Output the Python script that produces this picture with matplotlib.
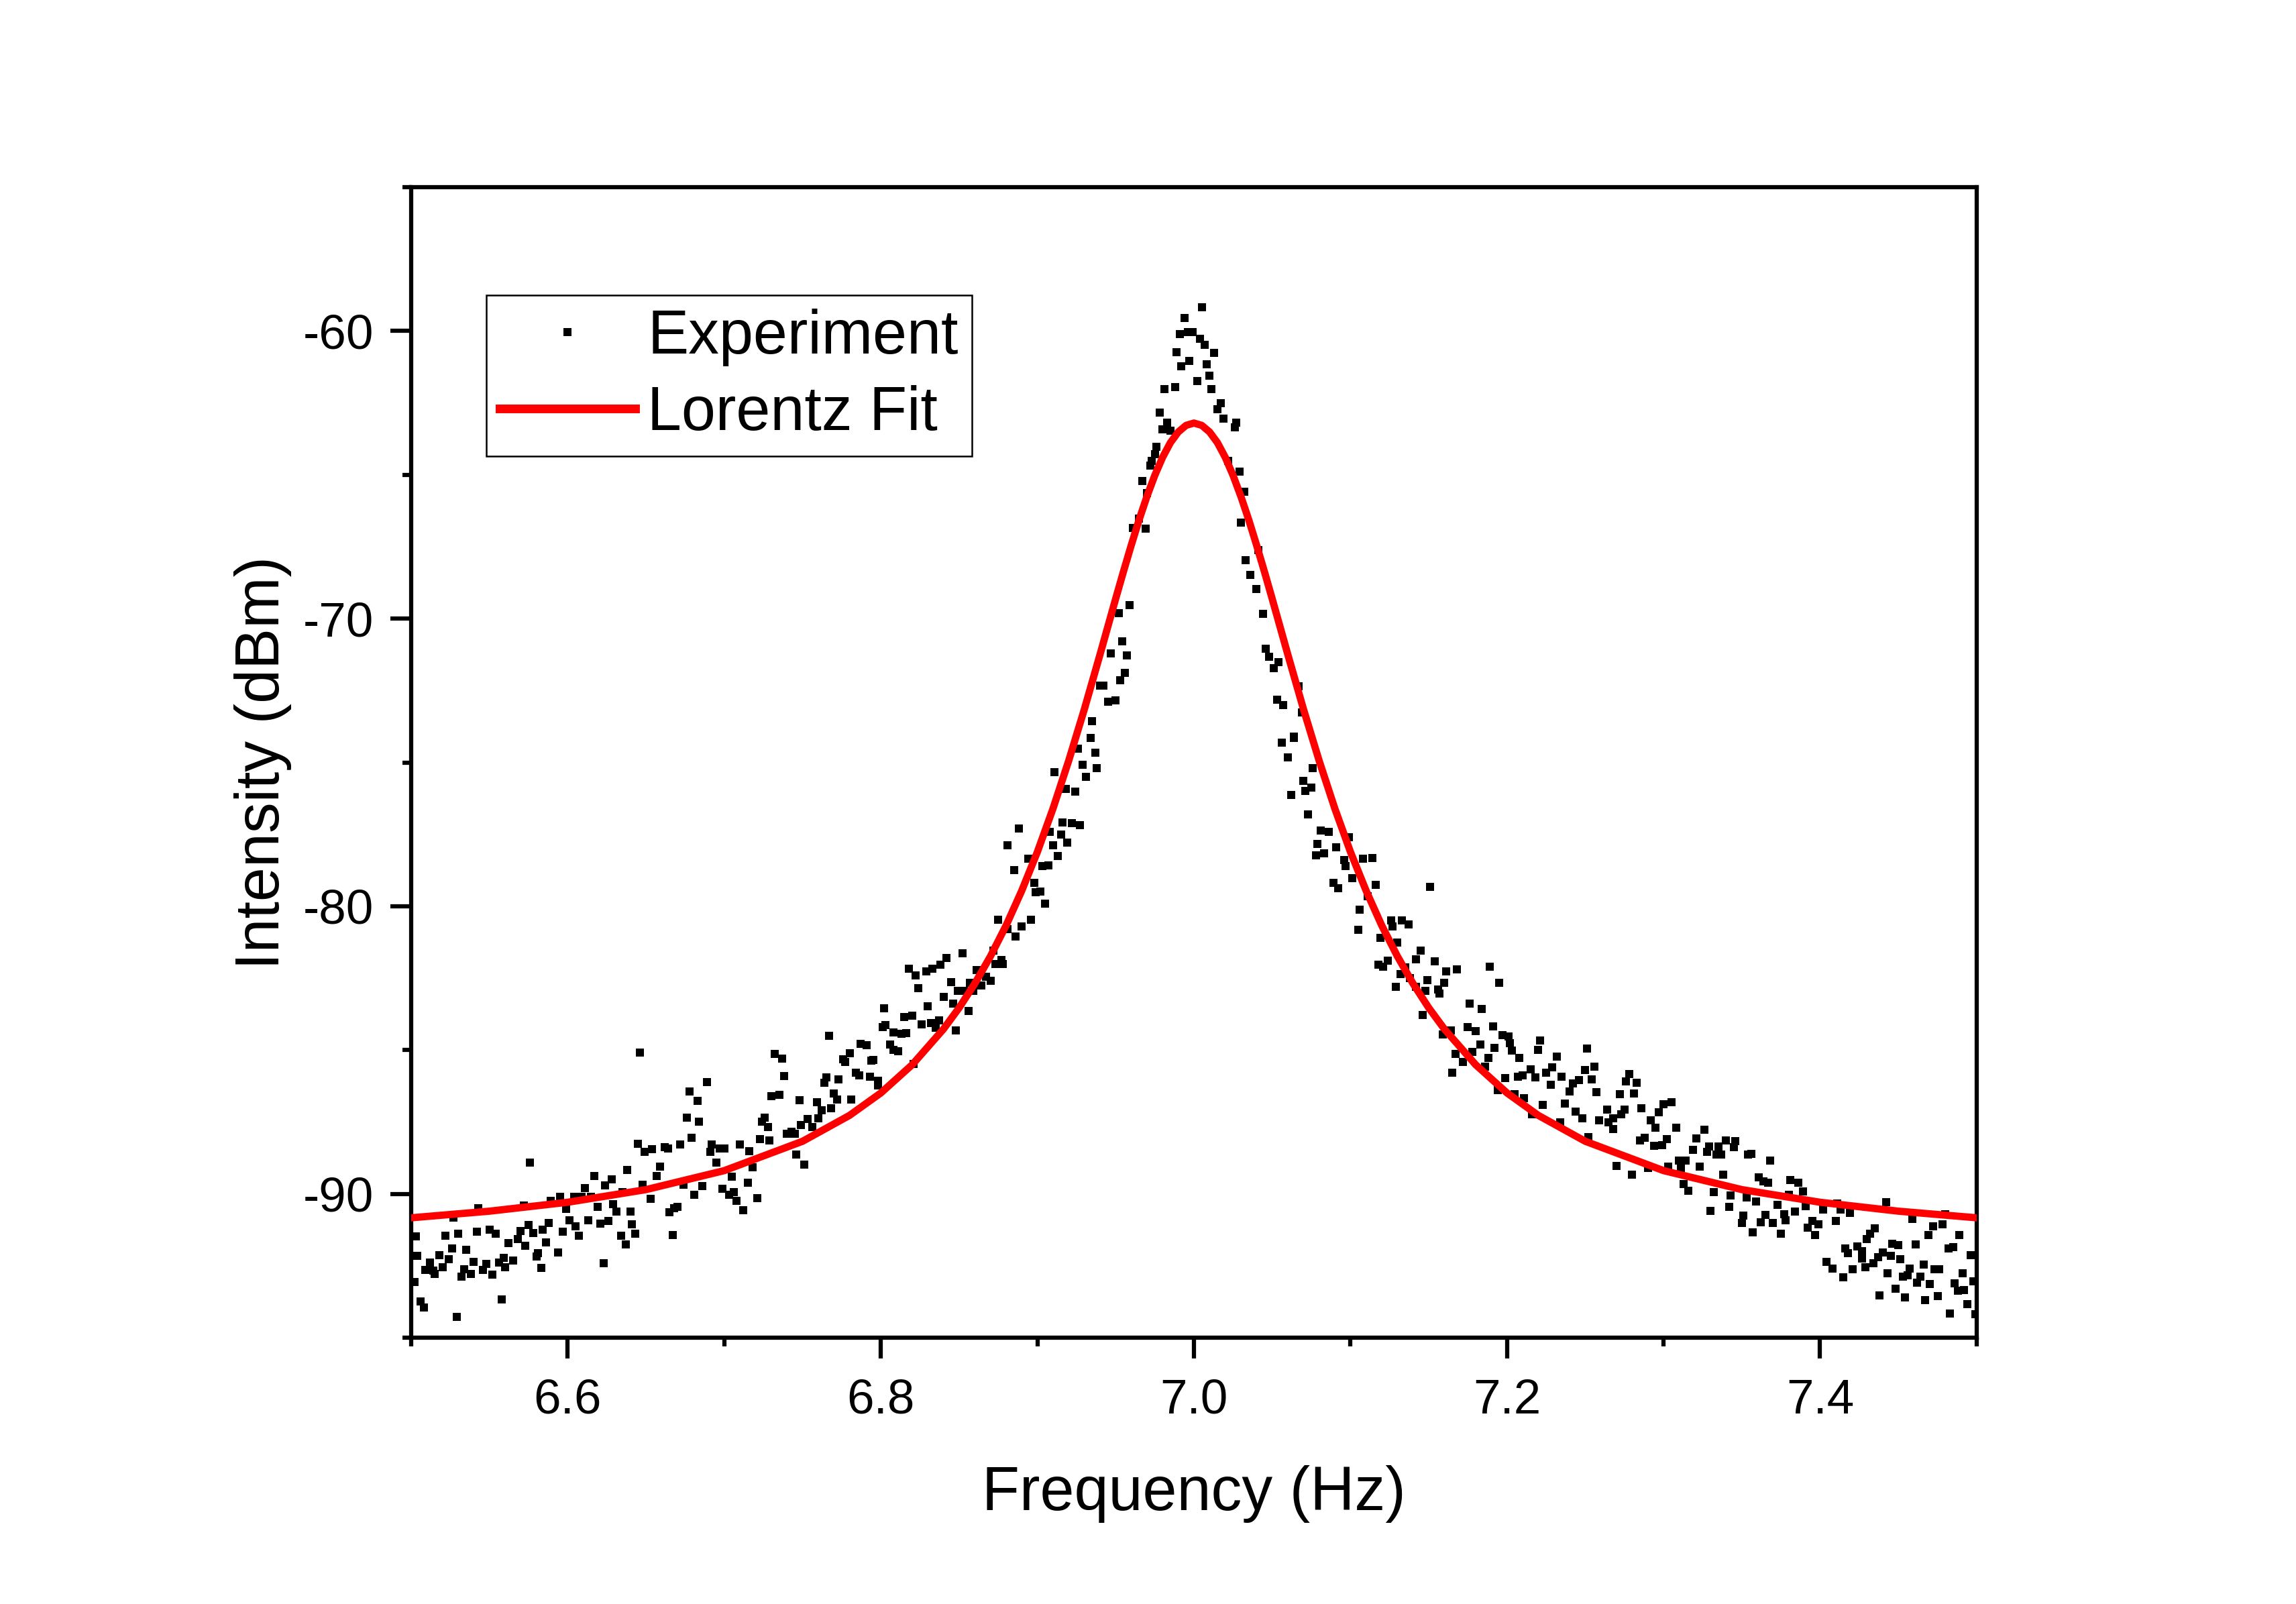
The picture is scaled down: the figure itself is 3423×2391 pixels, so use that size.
import numpy as np
import matplotlib
matplotlib.use("Agg")
import matplotlib.pyplot as plt
from matplotlib.ticker import MultipleLocator, FormatStrFormatter

plt.rcParams['font.family'] = ['Liberation Sans', 'DejaVu Sans']
plt.rcParams['axes.unicode_minus'] = False

# experiment points (Hz, dBm) ###############################################
tail_left = [
    (6.503,-91.48),(6.504,-92.15),(6.502,-93.06),(6.506,-93.74),(6.508,-93.94),(6.512,-92.38),
    (6.509,-92.64),(6.514,-92.67),(6.515,-92.78),(6.518,-92.12),(6.520,-92.54),(6.524,-92.26),
    (6.522,-91.45),(6.526,-91.89),(6.527,-90.82),(6.530,-91.39),(6.529,-94.28),(6.532,-92.88),
    (6.534,-92.62),(6.535,-91.95),(6.538,-92.78),(6.540,-92.36),(6.542,-91.32),(6.543,-90.49),
    (6.546,-92.64),(6.548,-92.44),(6.550,-91.24),(6.552,-92.80),(6.554,-91.39),(6.556,-92.38),
    (6.558,-93.66),(6.560,-92.54),(6.559,-92.23),(6.562,-91.71),(6.565,-92.31),(6.568,-91.57),
    (6.570,-91.29),(6.572,-90.41),(6.573,-91.81),(6.575,-91.08),(6.576,-88.90),(6.578,-91.37),
    (6.580,-92.17),(6.581,-92.05),(6.583,-92.57),(6.584,-91.24),(6.586,-91.68),(6.588,-91.01),
    (6.589,-90.25),(6.594,-92.03),(6.595,-90.09),(6.597,-91.31),(6.599,-90.51),(6.601,-90.91),
    (6.604,-90.11),(6.605,-91.13),(6.607,-91.45),(6.609,-90.11),(6.611,-89.80),(6.613,-90.91),
    (6.615,-90.11),(6.617,-89.37),(6.619,-90.44),(6.621,-91.03),(6.623,-92.40),(6.624,-89.70),
    (6.626,-90.95),(6.628,-89.49),(6.629,-90.35),(6.631,-90.61),(6.634,-91.45),(6.635,-89.94),
    (6.637,-91.76),(6.638,-89.16),(6.640,-90.61),(6.641,-91.05),(6.643,-91.39),(6.645,-88.25),
    (6.646,-85.08),(6.648,-89.68),(6.649,-88.53),(6.653,-90.18),(6.654,-88.45),(6.657,-89.37),
    (6.659,-89.05),(6.662,-88.38),(6.664,-88.41),(6.665,-90.63),(6.667,-91.43),(6.668,-90.49),
    (6.670,-90.46),(6.672,-88.27),(6.674,-89.68),(6.676,-87.34),(6.678,-86.43),(6.679,-88.04),
    (6.681,-90.02),(6.683,-86.76),(6.684,-87.49),(6.686,-89.73),(6.689,-86.12),(6.691,-88.53),
    (6.692,-88.27),(6.695,-88.90),(6.697,-88.41),(6.699,-89.83),
]

rise_left = [
    (6.700,-88.43),(6.703,-90.04),(6.705,-89.39),(6.706,-89.94),(6.708,-90.25),(6.710,-88.27),
    (6.712,-90.56),(6.715,-89.60),(6.716,-88.51),(6.718,-89.08),(6.721,-90.15),(6.723,-88.09),
    (6.724,-87.49),(6.726,-87.34),(6.728,-87.68),(6.729,-88.15),(6.730,-86.61),(6.732,-85.13),
    (6.735,-86.56),(6.737,-85.29),(6.738,-85.91),(6.740,-87.91),(6.743,-87.83),(6.745,-87.91),
    (6.746,-88.64),(6.748,-86.74),(6.749,-87.60),(6.751,-88.97),(6.753,-87.39),(6.756,-87.68),
    (6.759,-86.82),(6.760,-87.37),(6.762,-87.08),(6.764,-86.14),(6.765,-85.96),(6.767,-84.50),
    (6.768,-87.02),(6.770,-86.50),(6.772,-86.71),(6.773,-86.01),(6.776,-85.31),(6.777,-85.41),
    (6.780,-85.10),(6.781,-86.71),(6.784,-85.78),(6.786,-85.88),(6.787,-84.79),(6.791,-84.84),
    (6.793,-85.93),(6.794,-85.36),(6.795,-85.35),(6.798,-86.06),(6.798,-86.24),(6.802,-83.54),
    (6.801,-84.19),(6.803,-84.12),(6.808,-84.39),(6.813,-84.43),(6.816,-84.41),(6.806,-84.81),
    (6.808,-84.99),(6.811,-85.05),(6.815,-83.86),(6.820,-83.81),(6.821,-85.48),(6.826,-84.10),
    (6.818,-82.18),(6.822,-82.40),(6.829,-82.27),(6.833,-82.18),(6.838,-82.02),(6.842,-81.80),
    (6.852,-81.63),(6.824,-82.85),(6.830,-83.47),(6.832,-84.05),(6.837,-83.96),(6.835,-84.23),
    (6.840,-83.16),(6.845,-82.64),(6.846,-83.38),(6.848,-84.32),(6.849,-82.94),(6.853,-82.94),
    (6.856,-83.65),(6.857,-82.67),(6.859,-82.94),(6.861,-82.22),(6.864,-82.76),(6.867,-82.46),
    (6.870,-82.58),(6.872,-81.55),(6.873,-82.00),(6.877,-81.87),(6.878,-82.00),(6.875,-80.47),
    (6.881,-80.80),(6.886,-81.06),(6.890,-80.69),(6.896,-80.47),(6.881,-77.87),(6.885,-78.74),
    (6.888,-77.30),(6.894,-78.34),(6.898,-79.19),(6.899,-79.50),(6.902,-79.48),(6.905,-79.90),
    (6.903,-78.61),(6.907,-78.57),(6.910,-77.87),(6.913,-78.25),(6.908,-77.41),(6.915,-77.51),
    (6.919,-77.79),(6.916,-77.09),(6.922,-77.12),(6.927,-77.18),(6.911,-75.34),(6.918,-75.92),
    (6.924,-76.01),(6.931,-75.49),(6.929,-75.09),(6.938,-75.20),(6.937,-74.67),(6.926,-74.52),
    (6.934,-74.15),(6.935,-73.57),(6.940,-72.32),(6.942,-72.32),(6.945,-72.89),(6.950,-72.85),
    (6.953,-72.15),(6.956,-71.89),(6.947,-71.20),(6.957,-71.27),(6.954,-70.78),(6.952,-69.80),
    (6.959,-69.54),
]

peak = [
    (7.005,-59.17),(6.994,-59.54),(6.991,-60.11),(6.996,-60.04),(6.999,-60.03),(7.004,-60.28),
    (7.007,-60.47),(6.989,-60.74),(7.013,-60.76),(6.997,-61.05),(6.992,-61.23),(7.008,-61.16),
    (7.010,-61.56),(7.002,-61.74),(6.981,-62.03),(6.988,-61.95),(7.011,-62.01),(6.978,-62.83),
    (7.017,-62.52),(7.015,-62.73),(7.019,-63.05),(7.027,-63.19),(7.026,-63.36),(6.983,-63.19),
    (6.980,-63.42),(6.985,-63.46),(6.976,-64.02),(6.975,-64.28),(6.973,-64.51),(6.972,-64.67),
    (7.022,-64.51),(7.029,-64.88),(6.967,-65.21),(7.032,-65.58),(6.970,-65.64),(6.965,-66.53),
    (6.961,-66.84),(6.969,-66.88),(7.030,-66.67),(7.041,-67.62),(7.033,-67.97),
]

fall_right = [
    (7.036,-68.48),(7.040,-68.98),(7.044,-69.84),(7.046,-71.05),(7.048,-71.33),(7.054,-71.51),
    (7.051,-71.72),(7.067,-72.36),(7.053,-72.81),(7.057,-73.00),(7.069,-73.25),(7.064,-74.09),
    (7.056,-74.30),(7.056,-74.30),(7.064,-74.15),(7.060,-74.83),(7.076,-75.19),(7.070,-75.63),
    (7.075,-75.87),(7.071,-76.00),(7.062,-76.13),(7.073,-76.81),(7.081,-77.36),(7.086,-77.42),
    (7.099,-77.59),(7.079,-77.83),(7.091,-77.96),(7.078,-78.23),(7.083,-78.17),(7.096,-78.40),
    (7.097,-78.60),(7.108,-78.35),(7.114,-78.33),(7.101,-79.02),(7.089,-79.19),(7.092,-79.38),
    (7.116,-79.25),(7.111,-79.65),(7.151,-79.33),(7.106,-80.12),(7.105,-80.81),(7.126,-80.50),
    (7.133,-80.48),(7.137,-80.62),(7.127,-80.71),(7.119,-81.09),(7.130,-81.25),(7.145,-81.54),
    (7.142,-81.84),(7.154,-81.92),(7.118,-82.02),(7.124,-81.89),(7.135,-82.12),(7.121,-82.10),
    (7.132,-82.35),(7.138,-82.50),(7.161,-82.27),(7.168,-82.20),(7.189,-82.09),(7.195,-82.66),
    (7.149,-82.56),(7.160,-82.67),(7.129,-82.81),(7.142,-82.81),(7.148,-82.93),(7.156,-82.89),
    (7.157,-83.04),(7.176,-83.39),(7.184,-83.58),(7.146,-83.78),(7.164,-84.31),(7.159,-84.46),
    (7.175,-84.21),(7.180,-84.35),(7.191,-84.17),(7.197,-84.47),(7.201,-84.52),(7.202,-84.77),
    (7.203,-85.02),(7.208,-85.28),(7.183,-84.81),(7.192,-84.93),(7.178,-85.06),(7.167,-85.14),
    (7.172,-85.41),(7.188,-85.28),(7.186,-85.58),(7.165,-85.79),(7.221,-84.67),(7.220,-85.00),
    (7.232,-85.22),(7.251,-84.95),(7.215,-85.67),(7.218,-85.96),(7.210,-85.89),(7.207,-85.92),
    (7.199,-85.97),(7.225,-85.79),(7.229,-85.60),(7.235,-85.92),(7.228,-86.21),(7.242,-86.17),
    (7.246,-86.04),(7.250,-85.70),(7.256,-85.57),(7.254,-86.02),(7.257,-86.46),(7.240,-86.43),
    (7.237,-86.86),(7.223,-86.91),(7.211,-86.68),(7.205,-86.53),(7.194,-86.39),(7.244,-87.14),
    (7.264,-87.07),(7.216,-87.24),(7.234,-87.50),(7.248,-87.36),(7.252,-88.02),(7.259,-87.43),
    (7.265,-87.51),
]

tail_right = [
    (7.278,-85.84),(7.276,-86.10),(7.283,-86.14),(7.272,-86.54),(7.281,-86.50),(7.275,-87.07),
    (7.273,-87.24),(7.268,-87.37),(7.268,-87.75),(7.286,-87.01),(7.292,-87.45),(7.297,-87.15),
    (7.300,-86.87),(7.305,-86.80),(7.295,-87.69),(7.308,-87.70),(7.285,-88.13),(7.288,-88.04),
    (7.294,-88.32),(7.299,-88.30),(7.302,-88.10),(7.270,-89.02),(7.280,-89.32),(7.290,-89.10),
    (7.303,-89.06),(7.310,-88.85),(7.314,-88.85),(7.311,-89.10),(7.313,-89.65),(7.316,-89.89),
    (7.321,-88.06),(7.319,-88.47),(7.326,-87.76),(7.328,-88.54),(7.329,-88.34),(7.335,-88.34),
    (7.334,-88.64),(7.337,-88.64),(7.340,-88.15),(7.346,-88.17),(7.345,-88.38),(7.323,-89.06),
    (7.338,-89.32),(7.332,-89.93),(7.330,-90.60),(7.342,-90.46),(7.343,-90.06),(7.353,-90.12),
    (7.354,-88.64),(7.356,-88.60),(7.368,-88.85),(7.361,-89.43),(7.364,-89.57),(7.367,-89.60),
    (7.359,-90.27),(7.373,-90.37),(7.351,-90.76),(7.350,-91.01),(7.357,-91.33),(7.362,-90.99),
    (7.365,-90.74),(7.370,-91.01),(7.377,-90.71),(7.378,-90.91),(7.375,-91.39),(7.381,-89.51),
    (7.386,-89.61),(7.389,-89.91),(7.380,-90.04),(7.384,-90.61),(7.391,-90.42),(7.395,-90.93),
    (7.399,-91.05),(7.392,-91.18),(7.397,-91.43),(7.402,-90.54),(7.411,-90.33),(7.413,-90.54),
    (7.419,-90.67),(7.410,-90.93),(7.442,-90.29),(7.435,-91.20),(7.432,-91.39),(7.430,-91.56),
    (7.416,-91.90),(7.418,-92.07),(7.424,-91.83),(7.427,-91.98),(7.427,-92.24),(7.404,-92.37),
    (7.408,-92.60),(7.415,-92.90),(7.421,-92.62),(7.429,-92.54),(7.434,-92.40),(7.437,-92.20),
    (7.440,-92.03),(7.445,-92.15),(7.446,-91.73),(7.450,-91.77),(7.443,-92.76),(7.438,-93.53),
    (7.448,-93.30),(7.451,-92.28),(7.454,-93.60),(7.457,-92.60),(7.453,-92.87),(7.456,-92.83),
    (7.459,-90.87),(7.461,-91.76),(7.466,-92.45),(7.464,-92.87),(7.462,-93.09),(7.467,-93.70),
    (7.470,-93.13),(7.469,-91.43),(7.472,-91.12),(7.475,-93.55),(7.473,-92.62),(7.476,-92.62),
    (7.478,-91.05),(7.480,-90.71),(7.482,-91.90),(7.485,-91.84),(7.489,-91.43),(7.486,-93.11),
    (7.488,-93.37),(7.492,-93.34),(7.491,-92.76),(7.483,-94.16),(7.494,-93.83),(7.496,-92.14),
    (7.498,-93.04),(7.499,-94.19),
]

# Lorentz fit curve ##########################################################
fit_freq = [6.50, 6.55, 6.60, 6.65, 6.70, 6.75, 6.78, 6.80, 6.82, 6.84, 6.85, 6.86, 6.87,
            6.88, 6.89, 6.90, 6.91, 6.92, 6.93, 6.94, 6.95, 6.955, 6.96, 6.965, 6.97, 6.975,
            6.98, 6.985, 6.99, 6.995, 7.00, 7.005, 7.01, 7.015, 7.02, 7.025, 7.03, 7.035,
            7.04, 7.045, 7.05, 7.06, 7.07, 7.08, 7.09, 7.10, 7.11, 7.12, 7.13, 7.14, 7.15,
            7.16, 7.18, 7.20, 7.22, 7.25, 7.30, 7.35, 7.40, 7.45, 7.50]
fit_dbm = [-90.83, -90.60, -90.29, -89.85, -89.19, -88.17, -87.27, -86.49, -85.51, -84.27,
           -83.53, -82.69, -81.74, -80.67, -79.46, -78.11, -76.60, -74.94, -73.15, -71.25,
           -69.31, -68.36, -67.44, -66.56, -65.75, -65.02, -64.39, -63.88, -63.51, -63.28,
           -63.20, -63.28, -63.51, -63.88, -64.39, -65.02, -65.75, -66.56, -67.44, -68.36,
           -69.31, -71.25, -73.15, -74.94, -76.60, -78.11, -79.46, -80.67, -81.74, -82.69,
           -83.53, -84.27, -85.51, -86.49, -87.27, -88.17, -89.19, -89.85, -90.29, -90.60,
           -90.83]

x_ticks_major = 0.2
x_ticks_minor = 0.1
y_ticks_major = 10
y_ticks_minor = 5

exp = np.array(tail_left + rise_left + peak + fall_right + tail_right)

fig = plt.figure(figsize=(3423/300, 2391/300), dpi=300)
ax = fig.add_axes([0.1791, 0.166, 0.6818, 0.7173])

ax.plot(exp[:, 0], exp[:, 1], ls='none', marker='s', ms=3.1, mew=0,
        color='black', label='Experiment', zorder=2)
ax.plot(fit_freq, fit_dbm, color='#ff0000', lw=2.6, label='Lorentz Fit', zorder=3)

ax.set_xlim(6.5, 7.5)
ax.set_ylim(-95, -55)
ax.xaxis.set_major_locator(MultipleLocator(x_ticks_major))
ax.xaxis.set_minor_locator(MultipleLocator(x_ticks_minor))
ax.yaxis.set_major_locator(MultipleLocator(y_ticks_major))
ax.yaxis.set_minor_locator(MultipleLocator(y_ticks_minor))
ax.xaxis.set_major_formatter(FormatStrFormatter('%.1f'))
ax.yaxis.set_major_formatter(FormatStrFormatter('%d'))

for s in ax.spines.values():
    s.set_linewidth(1.5)
ax.tick_params(which='both', direction='out', width=1.5, top=False, right=False)
ax.tick_params(which='major', length=7.5, labelsize=17.5)
ax.tick_params(which='minor', length=3.2)
ax.tick_params(axis='x', which='major', pad=7)
ax.tick_params(axis='y', which='major', pad=6)

ax.set_xlabel('Frequency (Hz)', fontsize=22, labelpad=15)
ax.set_ylabel('Intensity (dBm)', fontsize=22, labelpad=4)

leg = ax.legend(loc='upper left', bbox_to_anchor=(0.048, 0.906), borderaxespad=0,
                fancybox=False, edgecolor='black', framealpha=1, fontsize=22,
                handlelength=2.2, handletextpad=0.2, borderpad=0.22, labelspacing=0.3)
leg.get_frame().set_linewidth(0.6)
leg.legend_handles[1].set_linewidth(3.1)

fig.savefig('out.png', dpi=300)
